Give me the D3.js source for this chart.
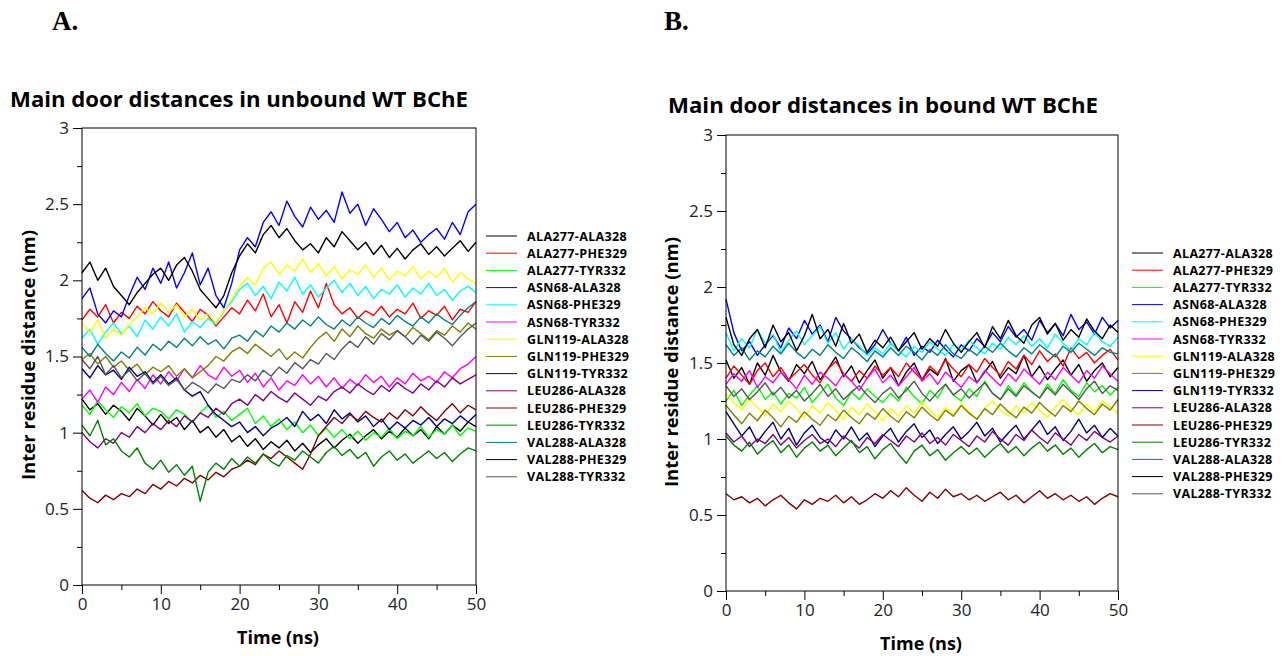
<!DOCTYPE html>
<html>
<head>
<meta charset="utf-8">
<script src="https://cdn.jsdelivr.net/npm/d3@7"></script>
<style>
body { margin: 0; background: #fff; }
svg text { font-family: "Open Sans", "Noto Sans", sans-serif; }
</style>
</head>
<body>
<svg id="chart"></svg>
<script>
let width = 1283
let height = 656

let time = [0,1,2,3,4,5,6,7,8,9,10,11,12,13,14,15,16,17,18,19,20,21,22,23,24,25,26,27,28,29,30,
  31,32,33,34,35,36,37,38,39,40,41,42,43,44,45,46,47,48,49,50]

let pairNames = ["ALA277-ALA328","ALA277-PHE329","ALA277-TYR332","ASN68-ALA328","ASN68-PHE329","ASN68-TYR332",
  "GLN119-ALA328","GLN119-PHE329","GLN119-TYR332","LEU286-ALA328","LEU286-PHE329","LEU286-TYR332",
  "VAL288-ALA328","VAL288-PHE329","VAL288-TYR332"]

let pairColors = ["#000000","#ff0000","#00ff00","#0000ff","#00ffff","#ff00ff","#ffff00","#808000",
  "#000080","#800080","#800000","#008000","#008080","#000000","#555555"]

let yTicks = [0,0.5,1,1.5,2,2.5,3]
let yMinor = [0.25,0.75,1.25,1.75,2.25,2.75]
let xTicks = [0,10,20,30,40,50]
let xMinor = [5,15,25,35,45]

// unbound WT BChE (nm)
let unbound = [
  [1.22,1.15,1.19,1.12,1.18,1.14,1.08,1.16,1.11,1.05,1.12,1.06,1.10,1.02,1.08,1.00,1.04,0.97,1.02,0.94,0.98,
   0.91,0.96,0.89,0.94,0.90,0.95,0.88,0.93,0.87,0.92,0.96,0.90,0.95,0.99,0.93,0.98,1.02,0.96,1.01,0.97,
   1.03,0.98,1.02,0.96,1.04,0.99,1.05,1.01,1.07,1.04],
  [1.74,1.81,1.76,1.84,1.72,1.79,1.75,1.83,1.78,1.86,1.80,1.76,1.85,1.79,1.73,1.81,1.77,1.70,1.76,1.82,1.78,
   1.87,1.80,1.91,1.76,1.84,1.72,1.86,1.79,1.93,1.82,1.98,1.84,1.78,1.82,1.75,1.80,1.77,1.83,1.76,1.81,
   1.78,1.85,1.75,1.80,1.77,1.83,1.74,1.81,1.79,1.86],
  [1.18,1.12,1.21,1.15,1.10,1.17,1.13,1.19,1.11,1.16,1.14,1.09,1.15,1.12,1.07,1.13,1.18,1.10,1.14,1.08,1.12,
   1.16,1.06,1.11,1.04,1.09,1.02,1.07,1.00,1.05,0.98,1.03,0.97,1.02,0.96,1.01,0.95,1.00,0.97,1.03,0.96,
   1.01,0.98,1.04,0.97,1.02,0.99,1.05,0.98,1.03,1.01],
  [1.88,1.95,1.78,1.72,1.80,1.76,1.90,2.02,1.94,2.08,1.98,2.12,1.95,2.05,2.18,1.97,2.08,1.90,1.82,1.98,2.20,
   2.28,2.22,2.38,2.45,2.36,2.52,2.42,2.35,2.48,2.40,2.46,2.38,2.58,2.44,2.50,2.36,2.47,2.40,2.32,2.38,
   2.28,2.33,2.25,2.30,2.34,2.27,2.38,2.30,2.45,2.50],
  [1.62,1.68,1.58,1.66,1.72,1.65,1.70,1.63,1.74,1.68,1.76,1.70,1.78,1.66,1.73,1.69,1.75,1.71,1.80,1.86,1.94,
   1.98,1.90,1.96,1.88,1.99,1.93,2.02,1.91,1.97,1.89,1.95,2.00,1.92,1.98,1.90,1.96,1.88,1.94,1.91,1.97,
   1.89,1.95,1.91,1.98,1.90,1.94,1.87,1.93,1.96,1.92],
  [1.22,1.28,1.20,1.30,1.25,1.33,1.27,1.35,1.29,1.38,1.32,1.40,1.34,1.42,1.36,1.44,1.38,1.35,1.43,1.37,1.41,
   1.33,1.39,1.30,1.36,1.28,1.34,1.31,1.38,1.32,1.37,1.30,1.36,1.29,1.35,1.31,1.38,1.33,1.37,1.30,1.36,
   1.32,1.39,1.34,1.37,1.33,1.40,1.36,1.42,1.45,1.50],
  [1.72,1.66,1.74,1.62,1.68,1.64,1.71,1.76,1.82,1.78,1.85,1.79,1.84,1.76,1.81,1.74,1.78,1.72,1.80,1.88,1.96,
   2.02,1.97,2.08,2.12,2.04,2.10,2.06,2.14,2.05,2.11,2.03,2.09,2.01,2.07,2.04,2.10,2.02,2.08,2.00,2.06,
   2.03,2.09,2.01,2.06,2.02,2.08,1.99,2.05,2.01,1.98],
  [1.48,1.52,1.45,1.50,1.43,1.47,1.41,1.45,1.38,1.43,1.40,1.44,1.37,1.42,1.36,1.40,1.44,1.50,1.47,1.53,1.56,
   1.52,1.58,1.54,1.50,1.55,1.48,1.53,1.49,1.56,1.62,1.66,1.60,1.68,1.63,1.70,1.65,1.62,1.68,1.64,1.67,
   1.63,1.69,1.65,1.61,1.67,1.64,1.70,1.66,1.72,1.68],
  [1.42,1.36,1.44,1.38,1.41,1.35,1.43,1.37,1.40,1.33,1.38,1.32,1.36,1.28,1.24,1.27,1.18,1.12,1.08,1.04,1.07,
   1.00,1.04,0.98,1.03,1.06,1.10,1.04,1.14,1.08,1.12,1.06,1.15,1.09,1.13,1.07,1.11,1.04,1.09,1.02,1.07,
   1.03,1.08,1.05,1.10,1.04,1.09,1.06,1.11,1.07,1.12],
  [1.00,0.94,0.90,0.96,0.93,1.00,0.97,1.04,1.00,1.06,1.02,1.08,1.04,1.11,1.07,1.13,1.10,1.16,1.12,1.19,1.22,
   1.18,1.25,1.21,1.27,1.23,1.20,1.26,1.22,1.18,1.24,1.21,1.27,1.30,1.26,1.32,1.28,1.25,1.31,1.27,1.33,
   1.29,1.26,1.32,1.28,1.34,1.30,1.36,1.32,1.35,1.38],
  [0.62,0.57,0.54,0.59,0.56,0.60,0.58,0.63,0.60,0.66,0.63,0.68,0.65,0.70,0.67,0.72,0.69,0.74,0.71,0.76,0.78,
   0.82,0.79,0.86,0.83,0.88,0.84,0.80,0.76,0.86,0.98,1.04,1.10,1.06,1.12,1.08,1.14,1.10,1.07,1.13,1.09,
   1.15,1.11,1.17,1.12,1.08,1.14,1.19,1.13,1.18,1.15],
  [1.05,0.98,1.08,0.92,0.96,0.88,0.84,0.90,0.80,0.76,0.82,0.74,0.79,0.72,0.78,0.55,0.74,0.80,0.76,0.83,0.78,
   0.84,0.80,0.86,0.81,0.78,0.85,0.82,0.88,0.84,0.80,0.87,0.91,0.85,0.89,0.83,0.87,0.78,0.84,0.88,0.82,
   0.86,0.80,0.84,0.88,0.83,0.87,0.81,0.86,0.90,0.88],
  [1.56,1.50,1.58,1.52,1.47,1.53,1.49,1.56,1.51,1.58,1.54,1.60,1.56,1.62,1.57,1.63,1.58,1.61,1.55,1.62,1.64,
   1.60,1.67,1.63,1.70,1.66,1.72,1.68,1.74,1.70,1.76,1.71,1.68,1.74,1.70,1.76,1.72,1.69,1.75,1.71,1.77,
   1.73,1.70,1.76,1.72,1.78,1.74,1.71,1.77,1.82,1.86],
  [2.05,2.12,2.00,2.08,1.96,1.90,1.84,1.92,1.98,2.04,2.08,2.00,2.10,2.15,2.06,1.94,1.88,1.82,1.90,2.05,2.16,
   2.24,2.18,2.30,2.36,2.28,2.34,2.26,2.20,2.24,2.18,2.28,2.22,2.32,2.26,2.20,2.25,2.17,2.23,2.15,2.21,
   2.14,2.20,2.24,2.17,2.22,2.16,2.21,2.26,2.19,2.25],
  [1.48,1.42,1.50,1.38,1.44,1.36,1.41,1.34,1.39,1.32,1.37,1.31,1.35,1.28,1.33,1.30,1.26,1.32,1.29,1.35,1.33,
   1.38,1.34,1.41,1.37,1.43,1.39,1.46,1.42,1.48,1.45,1.52,1.48,1.55,1.60,1.56,1.63,1.58,1.65,1.61,1.67,
   1.63,1.58,1.64,1.60,1.66,1.62,1.57,1.63,1.68,1.72]
]

// bound WT BChE (nm)
let bound = [
  [1.52,1.40,1.47,1.36,1.50,1.42,1.55,1.44,1.38,1.49,1.43,1.51,1.39,1.46,1.54,1.41,1.48,1.37,1.45,1.52,1.40,
   1.47,1.35,1.44,1.50,1.39,1.46,1.42,1.53,1.38,1.45,1.49,1.37,1.44,1.51,1.40,1.47,1.43,1.55,1.41,1.48,
   1.39,1.46,1.52,1.42,1.49,1.38,1.45,1.50,1.41,1.47],
  [1.40,1.48,1.42,1.36,1.45,1.50,1.41,1.47,1.39,1.44,1.49,1.42,1.37,1.46,1.51,1.43,1.38,1.45,1.40,1.48,1.42,
   1.47,1.41,1.50,1.44,1.39,1.48,1.43,1.52,1.46,1.41,1.49,1.44,1.53,1.47,1.42,1.51,1.46,1.55,1.49,1.58,
   1.51,1.56,1.48,1.60,1.53,1.57,1.50,1.55,1.59,1.52],
  [1.25,1.32,1.22,1.29,1.35,1.26,1.31,1.23,1.30,1.27,1.34,1.24,1.30,1.36,1.27,1.22,1.31,1.26,1.33,1.28,1.24,
   1.30,1.25,1.34,1.28,1.23,1.32,1.27,1.36,1.29,1.25,1.33,1.28,1.38,1.30,1.26,1.35,1.29,1.37,1.31,1.27,
   1.36,1.30,1.39,1.32,1.28,1.37,1.31,1.35,1.29,1.34],
  [1.92,1.70,1.58,1.64,1.55,1.62,1.68,1.60,1.73,1.66,1.78,1.69,1.75,1.64,1.80,1.71,1.66,1.60,1.56,1.62,1.72,
   1.63,1.58,1.67,1.55,1.61,1.57,1.65,1.59,1.54,1.62,1.58,1.66,1.61,1.70,1.64,1.74,1.67,1.72,1.65,1.78,
   1.70,1.76,1.68,1.82,1.72,1.77,1.69,1.80,1.73,1.78],
  [1.70,1.58,1.66,1.60,1.72,1.63,1.69,1.57,1.65,1.71,1.62,1.68,1.74,1.63,1.70,1.59,1.66,1.61,1.55,1.60,1.56,
   1.63,1.58,1.54,1.61,1.57,1.64,1.59,1.55,1.62,1.58,1.65,1.60,1.56,1.63,1.59,1.67,1.62,1.68,1.61,1.66,
   1.60,1.69,1.63,1.58,1.66,1.62,1.70,1.64,1.61,1.67],
  [1.36,1.43,1.38,1.45,1.34,1.41,1.37,1.44,1.39,1.33,1.42,1.36,1.44,1.40,1.35,1.43,1.38,1.32,1.40,1.46,1.37,
   1.42,1.35,1.41,1.47,1.38,1.43,1.36,1.44,1.39,1.34,1.41,1.37,1.45,1.40,1.35,1.43,1.38,1.46,1.41,1.36,
   1.44,1.39,1.47,1.42,1.37,1.45,1.40,1.48,1.43,1.38],
  [1.30,1.24,1.19,1.26,1.21,1.15,1.23,1.18,1.25,1.20,1.14,1.22,1.17,1.24,1.19,1.13,1.21,1.16,1.23,1.18,1.12,
   1.20,1.15,1.22,1.17,1.24,1.19,1.14,1.21,1.16,1.23,1.18,1.13,1.20,1.25,1.19,1.15,1.22,1.17,1.24,1.19,
   1.14,1.21,1.26,1.20,1.16,1.23,1.18,1.25,1.21,1.17],
  [1.22,1.16,1.10,1.17,1.12,1.19,1.14,1.08,1.15,1.11,1.18,1.13,1.09,1.16,1.12,1.19,1.14,1.10,1.17,1.13,1.20,
   1.15,1.11,1.18,1.14,1.21,1.16,1.12,1.19,1.15,1.22,1.17,1.13,1.20,1.16,1.23,1.18,1.14,1.21,1.17,1.24,
   1.19,1.15,1.22,1.18,1.25,1.20,1.16,1.23,1.19,1.26],
  [1.18,1.10,1.02,1.08,0.98,1.05,1.11,1.00,1.07,0.96,1.04,1.09,1.01,0.97,1.06,1.00,1.08,0.99,1.04,0.95,1.02,
   1.07,0.98,1.05,1.10,1.01,1.06,0.97,1.03,1.08,1.00,1.05,1.11,1.02,1.07,0.98,1.04,1.09,1.00,1.06,1.12,
   1.03,1.08,0.99,1.05,1.13,1.04,1.09,1.01,1.07,1.02],
  [1.04,0.98,1.02,0.95,1.00,0.97,1.03,0.96,1.01,0.94,0.99,1.03,0.97,1.00,0.95,1.02,0.98,0.94,1.01,0.97,1.03,
   0.99,0.95,1.02,0.98,1.04,0.97,1.01,0.96,1.03,0.99,0.95,1.02,0.98,1.05,1.00,0.96,1.03,0.99,1.06,1.01,
   0.97,1.04,1.00,0.96,1.03,0.99,1.05,1.01,0.98,1.02],
  [0.64,0.60,0.62,0.58,0.61,0.56,0.60,0.63,0.58,0.54,0.60,0.57,0.61,0.59,0.63,0.58,0.62,0.57,0.60,0.64,0.61,
   0.66,0.62,0.68,0.63,0.59,0.65,0.61,0.67,0.62,0.64,0.60,0.63,0.59,0.62,0.65,0.60,0.63,0.58,0.62,0.66,
   0.61,0.64,0.60,0.63,0.59,0.62,0.57,0.61,0.64,0.62],
  [1.02,0.96,0.92,0.98,0.90,0.95,0.99,0.91,0.96,0.88,0.94,0.98,0.92,0.96,0.89,0.94,0.99,0.91,0.95,0.87,0.93,
   0.97,0.90,0.84,0.92,0.96,0.89,0.93,0.86,0.91,0.95,0.90,0.94,0.88,0.93,0.97,0.91,0.95,0.89,0.94,0.98,
   0.92,0.96,0.90,0.94,0.88,0.93,0.97,0.91,0.95,0.93],
  [1.62,1.55,1.60,1.52,1.58,1.54,1.61,1.56,1.63,1.57,1.53,1.59,1.55,1.62,1.57,1.53,1.60,1.56,1.51,1.58,1.54,
   1.60,1.55,1.61,1.57,1.52,1.59,1.55,1.62,1.56,1.53,1.59,1.55,1.61,1.57,1.63,1.58,1.54,1.60,1.56,1.62,
   1.58,1.54,1.61,1.57,1.63,1.59,1.55,1.60,1.57,1.56],
  [1.80,1.62,1.55,1.66,1.72,1.60,1.75,1.64,1.70,1.58,1.68,1.82,1.66,1.72,1.61,1.76,1.63,1.69,1.57,1.65,1.60,
   1.67,1.58,1.64,1.70,1.59,1.66,1.61,1.72,1.63,1.57,1.64,1.70,1.60,1.74,1.66,1.78,1.68,1.63,1.75,1.80,
   1.69,1.76,1.65,1.72,1.67,1.79,1.71,1.66,1.75,1.70],
  [1.35,1.28,1.33,1.26,1.31,1.37,1.29,1.34,1.27,1.32,1.25,1.30,1.36,1.28,1.33,1.26,1.31,1.35,1.29,1.24,1.30,
   1.34,1.27,1.32,1.38,1.30,1.25,1.31,1.36,1.29,1.33,1.27,1.32,1.37,1.30,1.26,1.33,1.28,1.35,1.31,1.27,
   1.34,1.29,1.36,1.31,1.26,1.33,1.38,1.30,1.35,1.32]
]

let svg = d3.select('#chart').attr("width", width).attr("height", height)

// panel letters
svg.append("text").attr("x", 52).attr("y", 30).text("A.")
  .style("font-family", "'Liberation Serif', serif").style("font-weight", "bold").style("font-size", "27px")
svg.append("text").attr("x", 664).attr("y", 30).text("B.")
  .style("font-family", "'Liberation Serif', serif").style("font-weight", "bold").style("font-size", "27px")

let drawPanel = (p, series) => {
  let xScale = d3.scaleLinear().domain([0, 50]).range([p.left, p.right])
  let yScale = d3.scaleLinear().domain([0, 3]).range([p.bottom, p.top])

  let g = svg.append("g")

  g.append("text").attr("x", p.titleX).attr("y", p.titleY).text(p.title)
    .attr("textLength", p.titleW).attr("lengthAdjust", "spacingAndGlyphs")
    .style("font-weight", "bold").style("font-size", "21px")

  // lines
  let line = d3.line().x((d, i) => xScale(time[i])).y(d => yScale(d))
  series.forEach((vals, k) => {
    g.append("path").datum(vals).attr("d", line)
      .attr("fill", "none").attr("stroke", pairColors[k]).attr("stroke-width", 1.4)
      .attr("stroke-linejoin", "round")
  })

  // frame
  g.append("rect").attr("x", p.left).attr("y", p.top)
    .attr("width", p.right - p.left).attr("height", p.bottom - p.top)
    .attr("fill", "none").attr("stroke", "#000").attr("stroke-width", 1)

  let yAxis = d3.axisLeft(yScale).tickValues(yTicks).tickSize(9).tickPadding(4).tickFormat(d3.format("~g"))
  let yAxisMinor = d3.axisLeft(yScale).tickValues(yMinor).tickSize(5).tickFormat("")
  let xAxis = d3.axisBottom(xScale).tickValues(xTicks).tickSize(9).tickPadding(4)
  let xAxisMinor = d3.axisBottom(xScale).tickValues(xMinor).tickSize(5).tickFormat("")

  let ya = g.append("g").attr("transform", "translate(" + p.left + ",0)").call(yAxis)
  g.append("g").attr("transform", "translate(" + p.left + ",0)").call(yAxisMinor)
  let xa = g.append("g").attr("transform", "translate(0," + p.bottom + ")").call(xAxis)
  g.append("g").attr("transform", "translate(0," + p.bottom + ")").call(xAxisMinor)
  g.selectAll(".domain").remove()
  g.selectAll(".tick line").attr("stroke", "#000")
  ya.selectAll("text").style("font-size", "17px").attr("fill", "#222")
  xa.selectAll("text").style("font-size", "17px").attr("fill", "#222")

  g.append("text").attr("x", (p.left + p.right) / 2 - 1).attr("y", p.bottom + 59)
    .attr("text-anchor", "middle").text("Time (ns)")
    .style("font-weight", "bold").style("font-size", "18px")

  g.append("text").attr("transform", "translate(" + p.ylabX + "," + p.ylabY + ") rotate(-90)")
    .attr("text-anchor", "middle").text("Inter residue distance (nm)")
    .attr("textLength", 250).attr("lengthAdjust", "spacingAndGlyphs")
    .style("font-weight", "bold").style("font-size", "18px")

  // legend
  let leg = g.append("g")
  pairNames.forEach((name, k) => {
    let y = p.legY + k * 17.2
    leg.append("line").attr("x1", p.legX).attr("x2", p.legX + 31).attr("y1", y).attr("y2", y)
      .attr("stroke", pairColors[k]).attr("stroke-width", 1)
    leg.append("text").attr("x", p.legX + 41).attr("y", y + 4.5).text(name)
      .style("font-weight", "bold").style("font-size", "12.5px").style("letter-spacing", "0.35px")
  })
}

drawPanel({left: 82, right: 476, top: 128, bottom: 585, title: "Main door distances in unbound WT BChE",
  titleX: 10, titleY: 107, titleW: 458, ylabX: 35, ylabY: 355, legX: 486, legY: 236}, unbound)

drawPanel({left: 726, right: 1118, top: 135, bottom: 591, title: "Main door distances in bound WT BChE",
  titleX: 668, titleY: 113, titleW: 430, ylabX: 678, ylabY: 362, legX: 1132, legY: 253}, bound)
</script>
</body>
</html>
